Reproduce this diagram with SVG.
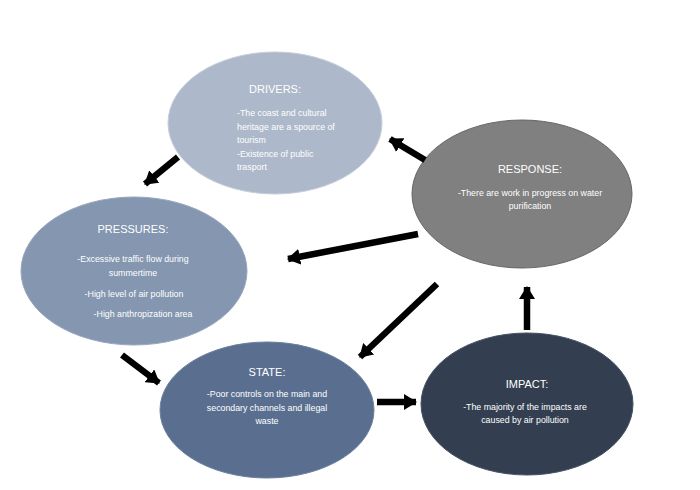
<svg xmlns="http://www.w3.org/2000/svg" width="700" height="490" viewBox="0 0 700 490">
<defs>
<marker id="ah" markerUnits="userSpaceOnUse" markerWidth="14" markerHeight="16" refX="12" refY="8" orient="auto">
<path d="M0,0 L13,8 L0,16 Z" fill="#000"/>
</marker>
<style>
.t{font-family:"Liberation Sans",Arial,sans-serif;fill:#fff;font-size:11px}
.b{font-family:"Liberation Sans",Arial,sans-serif;fill:#fff;font-size:8.8px}
.c{text-anchor:middle}
.con line{stroke:#000;stroke-width:6.5;marker-end:url(#ah)}
</style>
</defs>
<rect width="700" height="490" fill="#fff"/>
<g id="drivers">
<ellipse cx="275" cy="123" rx="107" ry="71" fill="#adb9ca" stroke="#c6cfdb" stroke-width="1"/>
<text class="t c" x="275" y="93">DRIVERS:</text>
<text class="b" x="237" y="116">-The coast and cultural</text>
<text class="b" x="237" y="129.5">heritage are a spource of</text>
<text class="b" x="237" y="143">tourism</text>
<text class="b" x="237" y="156.5">-Existence of public</text>
<text class="b" x="237" y="170">trasport</text>
</g>
<g id="response">
<ellipse cx="522" cy="194" rx="110" ry="74" fill="#808080" stroke="#666" stroke-width="1"/>
<text class="t c" x="530" y="173">RESPONSE:</text>
<text class="b c" x="530" y="196">-There are work in progress on water</text>
<text class="b c" x="530" y="208.5">purification</text>
</g>
<g id="pressures">
<ellipse cx="134" cy="271" rx="113" ry="74" fill="#8496b0" stroke="#97a7bd" stroke-width="1"/>
<text class="t c" x="133" y="233">PRESSURES:</text>
<text class="b c" x="133" y="262">-Excessive traffic flow during</text>
<text class="b c" x="133" y="276">summertime</text>
<text class="b c" x="134" y="297">-High level of air pollution</text>
<text class="b c" x="143" y="317">-High anthropization area</text>
</g>
<g id="state">
<ellipse cx="267" cy="410" rx="107" ry="68" fill="#5a6f8f" stroke="#6b7f9c" stroke-width="1"/>
<text class="t c" x="267" y="376">STATE:</text>
<text class="b c" x="267" y="397">-Poor controls on the main and</text>
<text class="b c" x="267" y="410.5">secondary channels and illegal</text>
<text class="b c" x="267" y="424">waste</text>
</g>
<g id="impact">
<ellipse cx="527" cy="404" rx="106" ry="71" fill="#333f50" stroke="#465263" stroke-width="1"/>
<text class="t c" x="527" y="388">IMPACT:</text>
<text class="b c" x="525" y="409.5">-The majority of the impacts are</text>
<text class="b c" x="525" y="423">caused by air pollution</text>
</g>
<g id="connectors" class="con">
<line x1="178" y1="157" x2="145" y2="184"/>
<line x1="425" y1="160" x2="390" y2="139"/>
<line x1="418" y1="234" x2="288" y2="259"/>
<line x1="437" y1="284" x2="360" y2="357"/>
<line x1="122" y1="355" x2="159" y2="383"/>
<line x1="377" y1="402" x2="416" y2="402"/>
<line x1="527" y1="330" x2="527" y2="287"/>
</g>
</svg>
